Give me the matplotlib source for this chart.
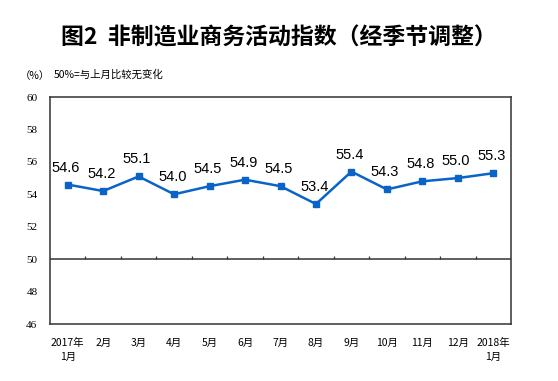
import matplotlib.pyplot as plt
import numpy as np

plt.rcParams['font.family'] = ['Noto Sans CJK SC', 'DejaVu Sans']

months = ['2017年\n1月', '2月', '3月', '4月', '5月', '6月', '7月', '8月',
          '9月', '10月', '11月', '12月', '2018年\n1月']
values = [54.6, 54.2, 55.1, 54.0, 54.5, 54.9, 54.5, 53.4, 55.4, 54.3, 54.8, 55.0, 55.3]
yticks = [46, 48, 50, 52, 54, 56, 58, 60]

line_color = '#0a64c8'

fig = plt.figure(figsize=(5.58, 3.81), dpi=100)
ax = fig.add_axes([50 / 558, 1 - 324 / 381, 461 / 558, 227 / 381])

x = np.arange(len(months))
ax.plot(x, values, color=line_color, lw=1.8, marker='s', ms=4.5, zorder=3)

# value labels above each point
for i, v in enumerate(values):
    ax.text(i - 0.05, v + 0.62, f'{v:.1f}', ha='center', va='bottom',
            fontsize=10.5, family='Liberation Sans')

ax.set_xlim(-0.5, len(months) - 0.5)
ax.set_ylim(46, 60)
ax.set_yticks(yticks)
ax.set_yticklabels([str(t) for t in yticks], fontsize=8, family='Liberation Serif')
ax.tick_params(axis='y', length=0, pad=9)

# 50 reference line with category boundary ticks
ax.axhline(50, color='#333333', lw=1.1)
ax.vlines(np.arange(0.5, len(months) - 1), 50, 50.17, color='#333333', lw=0.9)

ax.set_xticks(x)
ax.set_xticklabels(months, fontsize=7.5, linespacing=1.55)
ax.tick_params(axis='x', length=0, pad=10)

for s in ax.spines.values():
    s.set_color('#333333')
    s.set_linewidth(1.1)

fig.text(0.5, 1 - 38 / 381, '图2  非制造业商务活动指数（经季节调整）',
         ha='center', va='center', fontsize=16.5, fontweight='bold')
fig.text(20 / 558, 1 - 76 / 381, '（%）', ha='left', va='center', fontsize=7.5)
fig.text(54 / 558, 1 - 75 / 381, '50%=与上月比较无变化', ha='left', va='center',
         fontsize=7.5)

fig.savefig('out.png', dpi=100)
